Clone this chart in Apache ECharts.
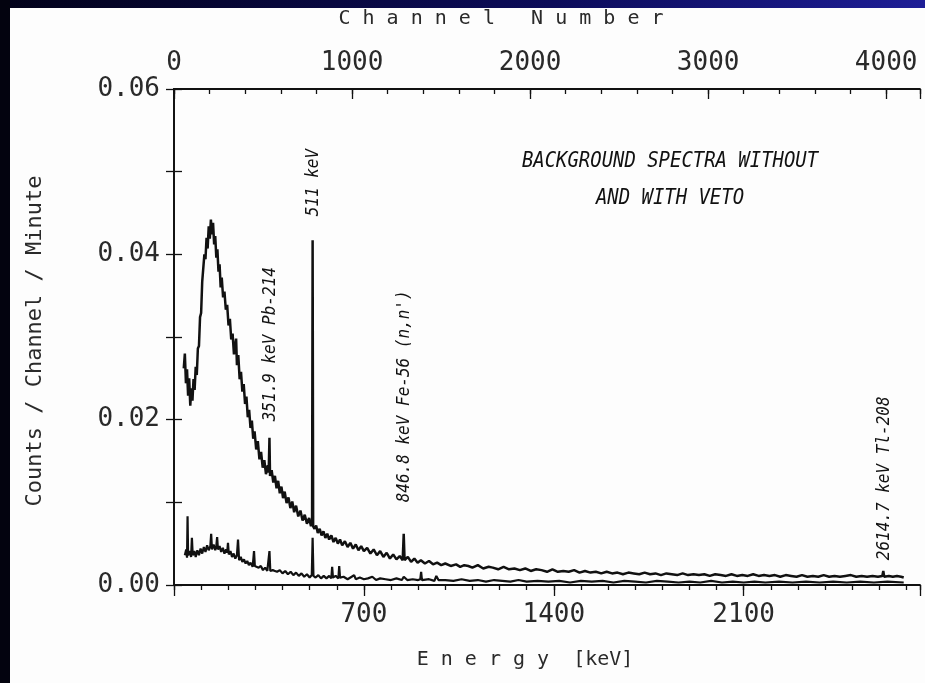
<!DOCTYPE html>
<html>
<head>
<meta charset="utf-8">
<script src="https://cdn.jsdelivr.net/npm/echarts@6/dist/echarts.min.js"></script>
<style>
  html, body { margin: 0; padding: 0; background: #fdfdfd; overflow: hidden; }
  #main { width: 925px; height: 683px; }
</style>
</head>
<body>
<div id="main"></div>
<script>
// spectra: [energy keV, counts / channel / minute]
var withoutVeto = [
  [36, 0.0262], [40, 0.0280], [44, 0.0244], [48, 0.0261], [52, 0.0229], [56, 0.0250],
  [60, 0.0217], [64, 0.0238], [68, 0.0223], [72, 0.0249], [76, 0.0236], [80, 0.0264],
  [84, 0.0254], [88, 0.0286], [92, 0.0289], [96, 0.0324], [100, 0.0329], [104, 0.0367],
  [108, 0.0366], [112, 0.0400], [116, 0.0394], [120, 0.0420], [124, 0.0407], [128, 0.0434],
  [132, 0.0419], [136, 0.0442], [140, 0.0424], [144, 0.0438], [148, 0.0412], [152, 0.0422],
  [156, 0.0396], [160, 0.0406], [164, 0.0379], [168, 0.0388], [172, 0.0360], [176, 0.0372],
  [181, 0.0348], [186, 0.0355], [191, 0.0333], [196, 0.0339], [201, 0.0314], [206, 0.0322],
  [211, 0.0297], [216, 0.0304], [221, 0.0279], [226, 0.0291], [229, 0.0298], [232, 0.0266],
  [237, 0.0278], [242, 0.0249], [247, 0.0258], [252, 0.0234], [257, 0.0243], [262, 0.0219],
  [267, 0.0228], [272, 0.0203], [277, 0.0212], [282, 0.0190], [287, 0.0199], [292, 0.0177],
  [297, 0.0186], [303, 0.0164], [309, 0.0174], [315, 0.0152], [321, 0.0161], [327, 0.0142],
  [333, 0.0151], [339, 0.0134], [346, 0.0145], [349, 0.0136], [351.9, 0.0178], [354, 0.0132],
  [360, 0.0139], [366, 0.0124], [372, 0.0132], [378, 0.0117], [384, 0.0126], [390, 0.0111],
  [396, 0.0119], [402, 0.0105], [408, 0.0113], [415, 0.0099], [422, 0.0106], [429, 0.0093],
  [436, 0.0101], [443, 0.0088], [450, 0.0096], [458, 0.0083], [466, 0.0090], [474, 0.0078],
  [482, 0.0085], [490, 0.0074], [498, 0.0081], [505, 0.0071], [509, 0.0077], [511, 0.0417],
  [513, 0.0071], [518, 0.0068], [524, 0.0072], [530, 0.0063], [537, 0.0068], [544, 0.0060],
  [551, 0.0065], [558, 0.0057], [565, 0.0062], [572, 0.0055], [580, 0.0060], [588, 0.0052],
  [596, 0.0057], [604, 0.0050], [612, 0.0055], [620, 0.0048], [630, 0.0053], [640, 0.0046],
  [650, 0.0051], [660, 0.0044], [670, 0.0049], [680, 0.0042], [690, 0.0047], [700, 0.0041],
  [712, 0.0045], [724, 0.0038], [736, 0.0043], [748, 0.0036], [760, 0.0041], [772, 0.0034],
  [784, 0.0039], [796, 0.0032], [808, 0.0037], [820, 0.0031], [832, 0.0035], [843, 0.0030],
  [846.8, 0.0062], [850, 0.0030], [862, 0.0034], [874, 0.0028], [886, 0.0032], [898, 0.0027],
  [910, 0.0030], [925, 0.0026], [940, 0.0029], [955, 0.0025], [970, 0.0027], [985, 0.0024],
  [1000, 0.0026], [1020, 0.0023], [1040, 0.0025], [1055, 0.0022], [1070, 0.0024], [1085, 0.0023],
  [1100, 0.0021], [1120, 0.0024], [1140, 0.0020], [1160, 0.0022], [1175, 0.0021], [1195, 0.0019],
  [1215, 0.0022], [1235, 0.0019], [1255, 0.0020], [1275, 0.0018], [1295, 0.0020], [1315, 0.0017],
  [1335, 0.0019], [1355, 0.0018], [1375, 0.0016], [1395, 0.0019], [1415, 0.0016], [1435, 0.0017],
  [1455, 0.0016], [1475, 0.0018], [1495, 0.0015], [1515, 0.0017], [1535, 0.0015], [1555, 0.0016],
  [1575, 0.0014], [1595, 0.0016], [1615, 0.0014], [1635, 0.0015], [1655, 0.0013], [1675, 0.0015],
  [1695, 0.0014], [1715, 0.0013], [1735, 0.0015], [1755, 0.0013], [1775, 0.0014], [1795, 0.0012],
  [1815, 0.0014], [1835, 0.0013], [1855, 0.0012], [1875, 0.0014], [1895, 0.0012], [1915, 0.0013],
  [1935, 0.0012], [1955, 0.0013], [1975, 0.0011], [1995, 0.0013], [2015, 0.0012], [2035, 0.0011],
  [2055, 0.0013], [2075, 0.0011], [2095, 0.0012], [2115, 0.0011], [2135, 0.0013], [2155, 0.0011],
  [2175, 0.0012], [2195, 0.0011], [2215, 0.0012], [2235, 0.0010], [2255, 0.0012], [2275, 0.0011],
  [2295, 0.0010], [2315, 0.0012], [2335, 0.0010], [2355, 0.0011], [2375, 0.0010], [2395, 0.0012],
  [2415, 0.0010], [2435, 0.0011], [2455, 0.0010], [2475, 0.0011], [2495, 0.0012], [2515, 0.0010],
  [2535, 0.0011], [2555, 0.0010], [2575, 0.0011], [2595, 0.0010], [2611, 0.0011], [2614.7, 0.0017],
  [2618, 0.0010], [2635, 0.0011], [2650, 0.0010], [2665, 0.0011], [2680, 0.0010], [2690, 0.0009]
];

var withVeto = [
  [40, 0.0036], [45, 0.0043], [48, 0.0033], [50, 0.0083], [52, 0.0036], [58, 0.0041],
  [63, 0.0034], [66, 0.0057], [69, 0.0036], [75, 0.0041], [80, 0.0034], [86, 0.0042],
  [92, 0.0036], [98, 0.0044], [104, 0.0038], [110, 0.0046], [116, 0.0040], [122, 0.0048],
  [128, 0.0042], [134, 0.0047], [137, 0.0062], [140, 0.0043], [146, 0.0049], [152, 0.0042],
  [156, 0.0047], [159, 0.0058], [162, 0.0043], [168, 0.0047], [174, 0.0040], [180, 0.0045],
  [186, 0.0038], [192, 0.0043], [196, 0.0039], [199, 0.0051], [202, 0.0037], [208, 0.0041],
  [214, 0.0034], [220, 0.0038], [226, 0.0032], [232, 0.0036], [236, 0.0055], [240, 0.0030],
  [246, 0.0034], [252, 0.0028], [258, 0.0031], [264, 0.0026], [270, 0.0029], [276, 0.0024],
  [282, 0.0027], [290, 0.0022], [295, 0.0041], [298, 0.0023], [305, 0.0021], [312, 0.0021],
  [320, 0.0023], [328, 0.0018], [336, 0.0021], [344, 0.0017], [349, 0.0019], [351.9, 0.0041],
  [355, 0.0017], [364, 0.0018], [372, 0.0017], [380, 0.0016], [390, 0.0018], [400, 0.0014],
  [410, 0.0017], [420, 0.0013], [430, 0.0016], [440, 0.0012], [450, 0.0015], [460, 0.0011],
  [470, 0.0014], [480, 0.0010], [490, 0.0013], [500, 0.0009], [508, 0.0012], [511, 0.0057],
  [514, 0.0011], [522, 0.0009], [532, 0.0012], [542, 0.0008], [552, 0.0011], [562, 0.0008],
  [572, 0.0011], [580, 0.0008], [583, 0.0022], [586, 0.0009], [596, 0.0011], [606, 0.0008],
  [609, 0.0023], [612, 0.0009], [625, 0.0010], [640, 0.0007], [655, 0.0010], [664, 0.0012],
  [670, 0.0007], [685, 0.0009], [700, 0.0007], [715, 0.0008], [731, 0.0010], [745, 0.0006],
  [760, 0.0008], [780, 0.0007], [800, 0.0006], [820, 0.0008], [840, 0.0006], [847, 0.0010],
  [860, 0.0006], [880, 0.0007], [900, 0.0006], [908, 0.0007], [911, 0.0016], [914, 0.0006],
  [940, 0.0007], [960, 0.0005], [967, 0.0011], [975, 0.0006], [1000, 0.0006], [1030, 0.0005],
  [1060, 0.0007], [1090, 0.0005], [1120, 0.0006], [1150, 0.0004], [1180, 0.0006], [1210, 0.0005],
  [1240, 0.0004], [1270, 0.0006], [1300, 0.0004], [1340, 0.0005], [1380, 0.0004], [1420, 0.0005],
  [1460, 0.0003], [1500, 0.0005], [1540, 0.0004], [1580, 0.0005], [1620, 0.0003], [1660, 0.0005],
  [1700, 0.0004], [1740, 0.0003], [1780, 0.0005], [1820, 0.0004], [1860, 0.0003], [1900, 0.0004],
  [1940, 0.0003], [1980, 0.0005], [2020, 0.0003], [2060, 0.0004], [2100, 0.0003], [2140, 0.0004],
  [2180, 0.0003], [2230, 0.0004], [2280, 0.0003], [2330, 0.0004], [2380, 0.0003], [2430, 0.0004],
  [2480, 0.0003], [2530, 0.0004], [2580, 0.0003], [2630, 0.0004], [2690, 0.0003]
];

// line labels: energy of the peak, rate where the rotated text starts
var peakLabels = ['351.9 keV Pb-214', '511 keV', "846.8 keV Fe-56 (n,n')", '2614.7 keV Tl-208'];
var peakKeV = [351.9, 511, 846.8, 2614.7];
var peakLabelStart = [0.0198, 0.0446, 0.0100, 0.0030];

var titleLines = ['BACKGROUND SPECTRA WITHOUT', 'AND WITH VETO'];

var ink = '#111';
var grey = '#2a2a2a';
var mono = 'DejaVu Sans Mono';

var myChart = echarts.init(document.getElementById('main'));

var option = {
    animation: false,
    backgroundColor: '#fdfdfd',
    grid: { left: 174, right: 5, top: 89, bottom: 98 },
    xAxis: [
        {
            type: 'value', position: 'bottom', min: 0, max: 2750, interval: 100,
            axisLine: { lineStyle: { color: ink, width: 1.8 } },
            axisTick: { inside: false, length: 5, lineStyle: { color: ink, width: 1.3 } },
            axisLabel: {
                margin: 17, fontSize: 26, fontFamily: mono, color: grey,
                formatter: function (v) { return (v > 0 && v % 700 === 0) ? String(v) : ''; }
            },
            splitLine: { show: false }
        },
        {
            type: 'value', position: 'bottom', min: 0, max: 2750, interval: 700,
            axisLine: { show: false },
            axisTick: { inside: false, length: 11, lineStyle: { color: ink, width: 1.3 } },
            axisLabel: { show: false },
            splitLine: { show: false }
        },
        {
            type: 'value', position: 'top', min: 0, max: 4190, interval: 200,
            axisLine: { lineStyle: { color: ink, width: 1.8 } },
            axisTick: { inside: true, length: 5, lineStyle: { color: ink, width: 1.3 } },
            axisLabel: {
                margin: 13, fontSize: 26, fontFamily: mono, color: grey,
                formatter: function (v) { return (v % 1000 === 0) ? String(v) : ''; }
            },
            splitLine: { show: false }
        },
        {
            type: 'value', position: 'top', min: 0, max: 4190, interval: 1000,
            axisLine: { show: false },
            axisTick: { inside: true, length: 10, lineStyle: { color: ink, width: 1.3 } },
            axisLabel: { show: false },
            splitLine: { show: false }
        }
    ],
    yAxis: [
        {
            type: 'value', position: 'left', min: 0, max: 0.06, interval: 0.01,
            axisLine: { show: true, lineStyle: { color: ink, width: 1.8 } },
            axisTick: { show: true, inside: true, length: 8, lineStyle: { color: ink, width: 1.3 } },
            axisLabel: {
                margin: 14, fontSize: 26, fontFamily: mono, color: grey,
                formatter: function (v) {
                    var k = Math.round(v * 100);
                    return k % 2 === 0 ? (k / 100).toFixed(2) : '';
                }
            },
            splitLine: { show: false }
        },
        {
            type: 'value', position: 'right', min: 0, max: 0.06, interval: 0.01,
            axisLine: { show: true, lineStyle: { color: ink, width: 1.8 } },
            axisTick: { show: true, inside: true, length: 8, lineStyle: { color: ink, width: 1.3 } },
            axisLabel: { show: false },
            splitLine: { show: false }
        }
    ],
    series: [
        {
            name: 'without veto', type: 'line', xAxisIndex: 0, yAxisIndex: 0,
            data: withoutVeto, showSymbol: false,
            lineStyle: { color: ink, width: 2.5 }
        },
        {
            name: 'with veto', type: 'line', xAxisIndex: 0, yAxisIndex: 0,
            data: withVeto, showSymbol: false,
            lineStyle: { color: ink, width: 2.2 }
        }
    ]
};
myChart.setOption(option);

// texts go on after the axes exist, so they can be placed in data coordinates
var graphics = [
    { type: 'rect', shape: { x: 0, y: 0, width: 925, height: 8 },
      style: { fill: new echarts.graphic.LinearGradient(0, 0, 1, 0, [
          { offset: 0, color: '#02021a' }, { offset: 0.6, color: '#0c0c5a' }, { offset: 1, color: '#1e1e96' }]) } },
    { type: 'rect', shape: { x: 0, y: 0, width: 10, height: 683 }, style: { fill: '#03030f' } },
    { type: 'text', x: 501, y: 19,
      style: { text: 'C h a n n e l   N u m b e r', fontFamily: mono, fontSize: 20, fill: grey,
               textAlign: 'center', textVerticalAlign: 'middle', align: 'center', verticalAlign: 'middle' } },
    { type: 'text', x: 525, y: 660,
      style: { text: 'E n e r g y  [keV]', fontFamily: mono, fontSize: 20, fill: grey,
               textAlign: 'center', textVerticalAlign: 'middle', align: 'center', verticalAlign: 'middle' } },
    { type: 'text', x: 35, y: 341, rotation: Math.PI / 2,
      style: { text: 'Counts / Channel / Minute', fontFamily: mono, fontSize: 22, fill: grey,
               textAlign: 'center', textVerticalAlign: 'middle', align: 'center', verticalAlign: 'middle' } }
];

titleLines.forEach(function (t, i) {
    graphics.push({ type: 'text', x: 670, y: 161 + i * 37, scaleX: 0.86,
        style: { text: t, fontFamily: mono, fontStyle: 'italic', fontSize: 22, fill: ink,
                 textAlign: 'center', textVerticalAlign: 'middle', align: 'center', verticalAlign: 'middle' } });
});

peakLabels.forEach(function (t, i) {
    var p = myChart.convertToPixel({ xAxisIndex: 0, yAxisIndex: 0 }, [peakKeV[i], peakLabelStart[i]]);
    graphics.push({ type: 'text', x: p[0] + 1, y: p[1], rotation: Math.PI / 2, scaleY: 1.1,
        style: { text: t, fontFamily: mono, fontStyle: 'italic', fontSize: 16, fill: ink,
                 textAlign: 'left', textVerticalAlign: 'middle', align: 'left', verticalAlign: 'middle' } });
});

myChart.setOption({ graphic: graphics });
</script>
</body>
</html>
